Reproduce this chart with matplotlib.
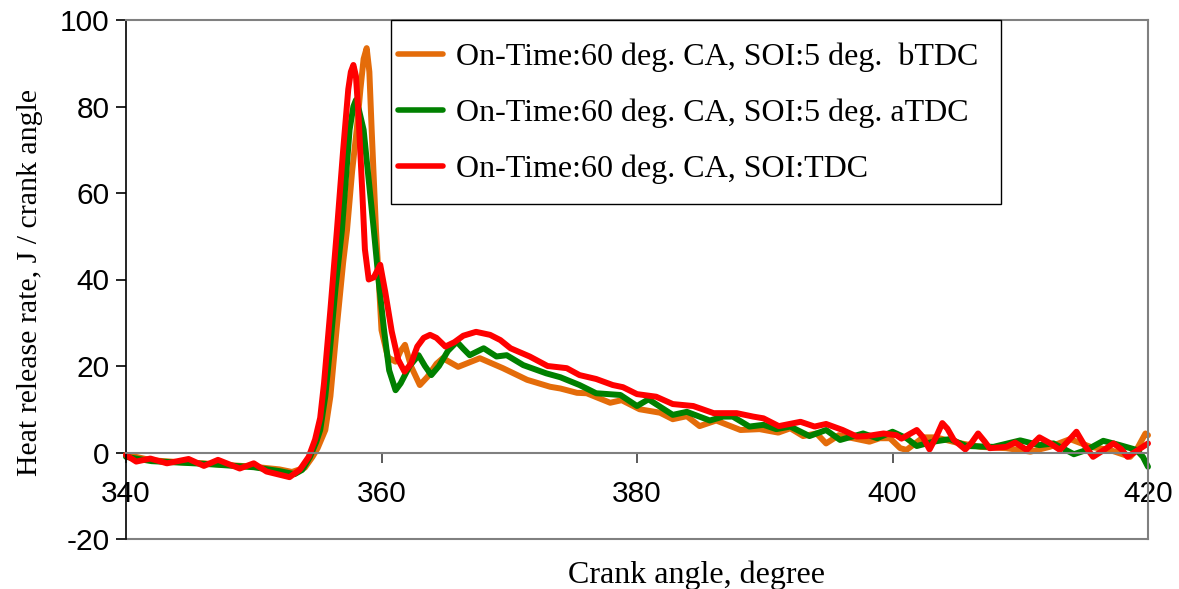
import matplotlib
matplotlib.use("Agg")
import matplotlib.pyplot as plt
from matplotlib.patches import Rectangle

plt.rcParams["axes.unicode_minus"] = False

# ---------------- data ----------------
labels = ["On-Time:60 deg. CA, SOI:5 deg.  bTDC",
          "On-Time:60 deg. CA, SOI:5 deg. aTDC",
          "On-Time:60 deg. CA, SOI:TDC"]
colors = ["#E46C0A", "#008000", "#FF0000"]

x_btdc = [340.0, 342, 344, 346, 348, 350, 352, 353.0, 354.0, 354.6, 355.0, 355.6, 356.0, 356.5,
          357.0, 357.3, 357.7, 358.06, 358.35, 358.6, 358.84, 359.05, 359.23, 359.57, 360.0, 360.5,
          361.1, 361.5, 361.84, 362.3, 363.0, 363.6, 364.3, 364.8, 366.0, 367.7, 369.5, 371.4,
          373.2, 374.0, 375.3, 376.06, 377.9, 378.8, 380.2, 381.8, 382.8, 383.9, 384.9, 386.2,
          388.1, 389.6, 391.06, 392.0, 393.0, 394.06, 394.8, 395.8, 396.9, 398.2, 399.0, 399.8,
          400.6, 401.1, 402.4, 403.4, 405.0, 406.9, 408.9, 410.8, 412.3, 413.9, 415.5, 417.0,
          418.6, 419.1, 419.8, 420.0]
y_btdc = [-0.5, -1.8, -2.2, -2.5, -2.9, -3.3, -3.9, -4.5, -3.5, -1.0, 1.0, 5.2, 13, 29,
          44, 51.4, 65, 74.6, 84, 91, 93.5, 88, 74.6, 51.4, 28.3, 22,
          21, 23.5, 24.9, 20, 15.6, 17.5, 20.5, 21.8, 19.8, 21.8, 19.5, 16.8,
          15.2, 14.8, 13.8, 13.7, 11.5, 12.1, 10.0, 9.2, 7.7, 8.4, 6.1, 7.4,
          5.2, 5.4, 4.6, 5.6, 3.8, 4.4, 2.1, 4.0, 3.3, 2.5, 3.3, 3.3,
          1.0, 0.6, 3.5, 3.5, 2.3, 1.3, 1.0, 0.2, 1.3, 3.1, 1.3, 0.6,
          -1.0, 0.6, 4.4, 4.0]

x_atdc = [340.0, 342, 344, 346, 348, 350, 352, 353.2, 353.8, 354.4, 354.9, 355.2, 355.6, 356.0,
          356.4, 356.9, 357.5, 357.8, 358.0, 358.25, 358.6, 359.0, 359.4, 359.8, 360.2, 360.6,
          361.1, 361.5, 362.2, 362.9, 363.4, 363.9, 364.5, 365.2, 365.9, 366.4, 366.9, 368.0,
          369.0, 369.8, 371.1, 372.9, 374.0, 375.5, 376.8, 378.7, 380.0, 380.9, 382.8, 383.9,
          385.7, 386.75, 387.5, 388.8, 389.9, 390.9, 392.0, 393.5, 394.8, 395.9, 397.7, 398.8,
          400.0, 401.1, 401.9, 403.2, 404.5, 405.8, 407.9, 410.0, 411.5, 412.6, 414.2, 415.2,
          416.5, 417.8, 419.1, 419.6, 420.0]
y_atdc = [-1.0, -2.0, -2.3, -2.6, -3.0, -3.4, -4.3, -5.0, -4.0, -1.0, 2.5, 5.2, 13, 25,
          38, 51.4, 74.6, 80, 81.5, 79, 74.6, 63, 51.4, 39, 28.3, 19,
          14.4, 16, 20, 22.5, 20, 17.9, 20, 23.5, 25.6, 24, 22.5, 24.1,
          22.2, 22.5, 20.2, 18.3, 17.4, 15.6, 13.7, 13.3, 10.75, 12.3, 8.7, 9.4,
          7.4, 8.3, 8.3, 6.0, 6.4, 5.4, 6.0, 3.8, 5.2, 2.9, 4.4, 3.3,
          4.8, 3.3, 1.5, 2.5, 3.1, 1.5, 1.3, 2.8, 1.7, 2.1, -0.4, 0.6,
          2.7, 1.7, 0.6, -1.0, -3.3]

x_tdc = [340.0, 340.8, 341.9, 343.2, 344.9, 346.1, 347.2, 348.9, 350.0, 351.0, 352.8, 353.6,
         354.3, 354.8, 355.2, 355.5, 356.0, 356.5, 357.0, 357.4, 357.6, 357.8, 358.0, 358.2,
         358.5, 358.7, 359.0, 359.4, 359.9, 360.3, 360.8, 361.3, 361.8, 362.3, 362.8, 363.3,
         363.8, 364.3, 365.0, 365.7, 366.4, 367.4, 368.5, 369.3, 370.1, 371.6, 373.0, 374.5,
         375.5, 376.8, 378.1, 378.9, 380.0, 381.5, 382.8, 384.4, 386.0, 387.8, 389.1, 389.9,
         391.1, 392.8, 393.9, 394.8, 396.1, 397.2, 398.0, 399.3, 400.3, 400.7, 401.9, 402.4,
         402.9, 403.4, 403.9, 404.3, 404.8, 405.7, 406.2, 406.7, 407.2, 407.6, 408.9, 409.6,
         410.5, 411.5, 412.3, 413.1, 413.8, 414.4, 415.0, 415.7, 416.5, 417.3, 417.9, 418.4,
         420.0]
y_tdc = [-0.6, -2.1, -1.4, -2.5, -1.5, -3.1, -1.7, -3.7, -2.5, -4.4, -5.7, -4.0,
         -1.0, 3.0, 8.0, 16, 33, 51, 70, 84, 88, 89.6, 87, 78,
         60, 47, 40, 40.5, 43.4, 37, 28, 21.5, 18.7, 20.5, 24.5, 26.5,
         27.2, 26.5, 24.5, 25.5, 27, 27.9, 27.2, 26, 24.1, 22.2, 20.0, 19.5,
         17.9, 17.0, 15.6, 15.1, 13.5, 12.9, 11.2, 10.75, 9.1, 9.1, 8.3, 7.9,
         6.1, 7.1, 6.0, 6.6, 5.2, 3.7, 3.8, 4.4, 4.0, 3.2, 5.2, 3.5,
         0.7, 3.5, 6.8, 5.5, 2.9, 0.7, 2.3, 4.4, 2.6, 1.0, 1.3, 2.3,
         0.6, 3.5, 2.2, 0.6, 2.8, 4.8, 1.8, -1.0, 0.5, 2.1, 0.8, -1.0,
         2.1]

x_ticks = [340, 360, 380, 400, 420]
y_ticks = [-20, 0, 20, 40, 60, 80, 100]

# ---------------- figure ----------------
W, H = 1179, 589
fig = plt.figure(figsize=(W / 100, H / 100), dpi=100)
L, R, T, B = 126, 1148, 20, 539
ax = fig.add_axes([L / W, 1 - B / H, (R - L) / W, (B - T) / H])

def ax_fx(px):
    return (px - L) / (R - L)

def ax_fy(py):
    return (B - py) / (B - T)

series = [(x_btdc, y_btdc), (x_atdc, y_atdc), (x_tdc, y_tdc)]
for (xs, ys), c, lab in zip(series, colors, labels):
    ax.plot(xs, ys, color=c, lw=4.3, label=lab, solid_joinstyle="round",
            solid_capstyle="round", clip_on=False)

ax.set_xlim(340, 420)
ax.set_ylim(-20, 100)

# frame
for s in ["top", "right"]:
    ax.spines[s].set_color("#808080")
    ax.spines[s].set_linewidth(1.5)
ax.spines["left"].set_color("black")
ax.spines["left"].set_linewidth(1.2)
ax.spines["bottom"].set_position(("data", 0))
ax.spines["bottom"].set_color("#808080")
ax.spines["bottom"].set_linewidth(1.5)
ax.axhline(-20, color="#808080", lw=1.5, clip_on=False)

ax.set_xticks(x_ticks)
ax.set_yticks(y_ticks)
ax.tick_params(axis="x", direction="out", length=7, width=1.2, color="#404040",
               pad=12.5, labelsize=21.5)
ax.tick_params(axis="y", direction="out", length=7, width=1.2, color="black",
               pad=5, labelsize=21.5)
for t in ax.get_xticklabels() + ax.get_yticklabels():
    t.set_family("Liberation Sans")

ax.set_xlabel("Crank angle, degree", family="Liberation Serif", fontsize=23)
ax.xaxis.set_label_coords(ax_fx(697), ax_fy(560))
ax.set_ylabel("Heat release rate, J / crank angle", family="Liberation Serif", fontsize=21.5)
ax.yaxis.set_label_coords(ax_fx(43), ax_fy(282))

# legend frame and entries
ax.add_patch(Rectangle((ax_fx(391), ax_fy(204)), ax_fx(1001) - ax_fx(391),
                       ax_fy(20) - ax_fy(204), transform=ax.transAxes,
                       facecolor="white", edgecolor="black", lw=1.0, zorder=5,
                       clip_on=False))
leg = ax.legend(loc="upper left", bbox_to_anchor=(ax_fx(398), ax_fy(43)),
                frameon=False, prop={"family": "Liberation Serif", "size": 23},
                handlelength=1.4, handletextpad=0.4, labelspacing=0.82,
                borderpad=0.0, borderaxespad=0)
leg.set_zorder(6)
for h in leg.get_lines():
    h.set_linewidth(4)

fig.savefig("out.png", dpi=100)
